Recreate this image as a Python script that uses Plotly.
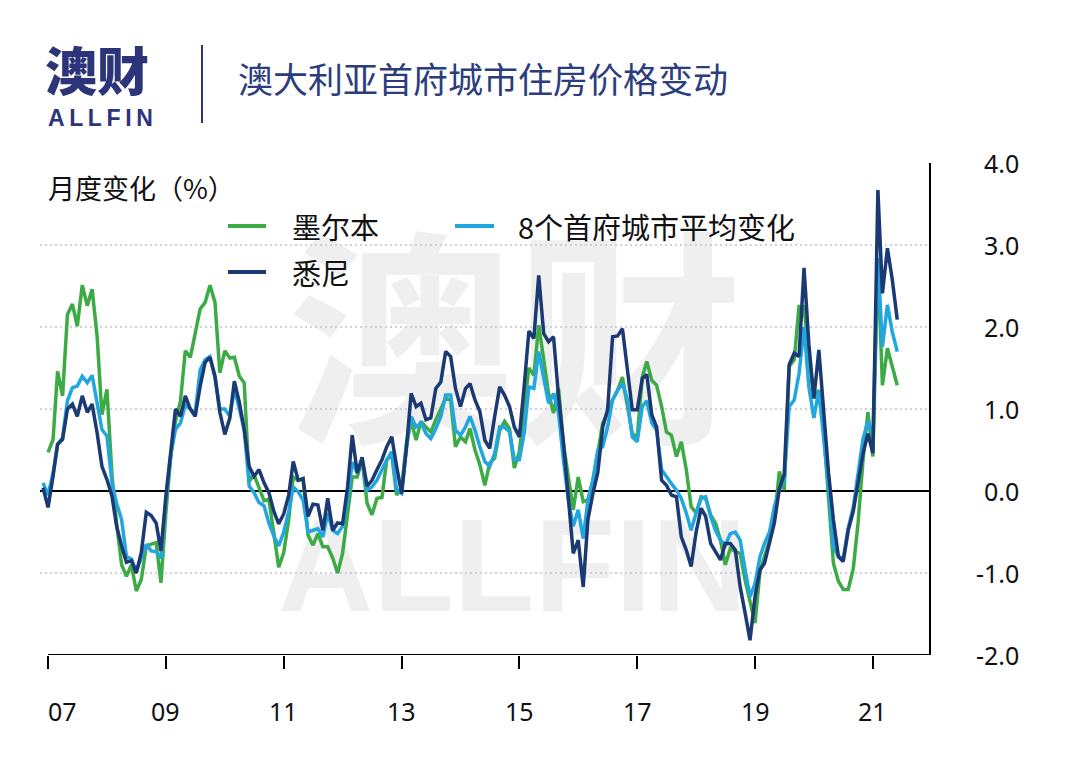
import pandas as pd
import plotly.graph_objects as go

# ---------------- data (monthly % change) ----------------
melbourne = [
    0.47, 0.63, 1.46, 1.16, 2.15, 2.28, 2.01, 2.51, 2.26, 2.46, 1.89, 0.93,
    1.24, 0.20, -0.40, -0.90, -1.04, -0.90, -1.22, -1.08, -0.67, -0.65, -0.63, -1.12,
    -0.25, 0.45, 0.85, 1.10, 1.71, 1.63, 1.90, 2.22, 2.30, 2.51, 2.30, 1.44,
    1.71, 1.62, 1.63, 1.40, 1.32, 0.12, 0.20, 0.05, -0.12, -0.10, -0.55, -0.93,
    -0.75, -0.35, 0.17, 0.13, 0.15, -0.54, -0.66, -0.52, -0.68, -0.68, -0.82, -1.00,
    -0.76, -0.27, 0.17, 0.17, 0.38, -0.15, -0.29, -0.09, -0.08, 0.38, 0.44, -0.05,
    0.05, 0.60, 0.85, 0.62, 0.85, 0.78, 0.72, 0.87, 1.01, 1.13, 1.11, 0.54,
    0.66, 0.60, 0.76, 0.50, 0.32, 0.07, 0.34, 0.40, 0.74, 0.85, 0.76, 0.28,
    0.48, 1.03, 1.50, 1.41, 2.02, 1.60, 1.19, 0.95, 1.25, 0.58, 0.13, -0.23,
    0.17, -0.13, -0.11, 0.13, 0.46, 0.83, 0.95, 1.11, 1.23, 1.39, 1.03, 0.70,
    0.66, 1.39, 1.58, 1.35, 1.29, 1.03, 0.72, 0.68, 0.42, 0.60, 0.26, -0.19,
    -0.27, -0.07, -0.09, -0.29, -0.39, -0.60, -0.90, -0.70, -0.74, -0.76, -1.09, -1.37,
    -1.61, -0.98, -0.80, -0.60, -0.35, 0.24, 0.01, 1.52, 1.60, 2.25, 2.25, 1.64,
    1.13, 1.23, 0.74, -0.07, -0.88, -1.10, -1.20, -1.20, -0.95, -0.39, 0.38, 0.96,
    0.42, 2.80, 1.29, 1.74, 1.50, 1.29,
]
sydney = [
    0.04,
    -0.20, 0.18, 0.57, 0.63, 1.00, 1.06, 0.91, 1.16, 0.96, 1.06, 0.71, 0.30,
    0.14, -0.06, -0.43, -0.67, -0.87, -0.85, -1.00, -0.75, -0.26, -0.30, -0.39, -0.73,
    -0.05, 0.50, 1.00, 0.91, 1.16, 1.00, 0.91, 1.28, 1.57, 1.63, 1.40, 0.96,
    0.69, 0.89, 1.34, 1.08, 0.75, 0.30, 0.18, 0.26, 0.10, -0.02, -0.25, -0.40,
    -0.28, -0.05, 0.36, 0.13, 0.15, -0.31, -0.16, -0.17, -0.48, -0.09, -0.48, -0.39,
    -0.40, 0.05, 0.68, 0.22, 0.41, 0.06, 0.13, 0.26, 0.38, 0.54, 0.66, 0.30,
    -0.03, 0.55, 1.19, 1.03, 1.07, 0.87, 0.89, 1.25, 1.33, 1.70, 1.64, 1.25,
    1.03, 1.25, 1.31, 1.11, 0.97, 0.62, 0.52, 0.91, 1.27, 1.17, 1.03, 0.78,
    0.66, 1.30, 1.95, 1.86, 2.63, 1.92, 1.82, 1.88, 1.15, 0.60, -0.05, -0.76,
    -0.60, -1.17, -0.35, -0.03, 0.22, 0.78, 0.99, 1.88, 1.89, 1.98, 1.48, 0.99,
    0.99, 1.37, 1.42, 0.93, 0.78, 0.13, 0.07, -0.05, -0.07, -0.56, -0.72, -0.92,
    -0.50, -0.21, -0.31, -0.64, -0.74, -0.84, -0.64, -0.64, -0.72, -1.17, -1.49, -1.82,
    -1.29, -0.96, -0.88, -0.64, -0.39, 0.03, 0.20, 1.54, 1.68, 1.64, 2.72, 1.79,
    1.13, 1.72, 0.99, 0.22, -0.35, -0.80, -0.86, -0.48, -0.25, 0.10, 0.46, 0.70,
    0.46, 3.67, 2.41, 2.96, 2.58, 2.09,
]
eight_capitals = [
    0.10,
    -0.05, 0.22, 0.57, 0.65, 1.10, 1.26, 1.28, 1.40, 1.32, 1.41, 1.08, 0.75,
    0.67, 0.10, -0.15, -0.35, -0.80, -0.83, -0.98, -0.80, -0.65, -0.73, -0.74, -0.82,
    -0.10, 0.45, 0.75, 0.83, 1.05, 1.00, 0.95, 1.48, 1.60, 1.64, 1.38, 1.00,
    1.00, 0.91, 1.24, 1.00, 0.75, 0.06, -0.02, -0.14, -0.18, -0.39, -0.55, -0.67,
    -0.50, -0.25, 0.05, -0.01, -0.11, -0.50, -0.48, -0.46, -0.56, -0.27, -0.48, -0.52,
    -0.43, -0.11, 0.35, 0.22, 0.36, 0.01, 0.05, 0.13, 0.26, 0.38, 0.48, 0.01,
    -0.03, 0.54, 0.91, 0.78, 0.83, 0.70, 0.64, 0.76, 0.91, 1.17, 1.17, 0.74,
    0.68, 0.78, 0.91, 0.74, 0.54, 0.36, 0.30, 0.46, 0.78, 0.78, 0.72, 0.38,
    0.38, 0.72, 1.27, 1.25, 1.70, 1.39, 1.07, 1.19, 0.95, 0.38, -0.11, -0.43,
    -0.23, -0.58, -0.11, 0.13, 0.50, 0.54, 0.78, 1.11, 1.23, 1.31, 1.11, 0.66,
    0.60, 1.03, 1.10, 0.83, 0.74, 0.26, 0.17, 0.09, 0.01, -0.09, -0.27, -0.48,
    -0.27, -0.09, -0.07, -0.31, -0.48, -0.60, -0.66, -0.52, -0.50, -0.60, -0.96, -1.29,
    -1.13, -0.80, -0.64, -0.50, -0.19, 0.01, 0.13, 1.03, 1.11, 1.43, 2.00, 1.27,
    0.89, 1.23, 0.66, 0.05, -0.68, -0.80, -0.82, -0.45, -0.20, 0.20, 0.64, 0.85,
    0.68, 2.84, 1.76, 2.27, 1.94, 1.70,
]
mel_start = "2007-01-01"
syd_start = "2006-12-01"
x_tick_dates = ["2007-01-01", "2009-01-01", "2011-01-01", "2013-01-01",
                "2015-01-01", "2017-01-01", "2019-01-01", "2021-01-01"]
x_tick_labels = ["07", "09", "11", "13", "15", "17", "19", "21"]
y_tick_vals = [4, 3, 2, 1, 0, -1, -2]
y_tick_labels = ["4.0", "3.0", "2.0", "1.0", "0.0", "-1.0", "-2.0"]
series_names = ["墨尔本", "8个首府城市平均变化", "悉尼"]

# ---------------- style ----------------
GREEN = "#3dab45"
LBLUE = "#22a6e0"
NAVY = "#1b3a73"
TITLE_C = "#2b3d7d"
LOGO_C = "#2d357a"
CJK = "Noto Sans CJK SC"

dates_mel = pd.date_range(mel_start, periods=len(melbourne), freq="MS")
dates_syd = pd.date_range(syd_start, periods=len(sydney), freq="MS")
dates_avg = pd.date_range(syd_start, periods=len(eight_capitals), freq="MS")

X_LEFT, X_RIGHT = "2006-11-12", "2021-12-21"
# page offset of the figure (body margin) is 8px; target plot area in page px:
OFF = 8
W, H = 1064, 750
P_L, P_R, P_T, P_B = 40, 930, 163, 655
ML, MR, MT, MB = P_L - OFF, (OFF + W) - P_R, P_T - OFF, (OFF + H) - P_B
PW, PH = P_R - P_L, P_B - P_T


def px(x):
    return (x - P_L) / PW


def py(y):
    return (P_B - y) / PH


fig = go.Figure()
fig.add_trace(go.Scatter(x=dates_mel, y=melbourne, mode="lines", name=series_names[0],
                         line=dict(color=GREEN, width=3.5)))
fig.add_trace(go.Scatter(x=dates_avg, y=eight_capitals, mode="lines", name=series_names[1],
                         line=dict(color=LBLUE, width=3.5)))
fig.add_trace(go.Scatter(x=dates_syd, y=sydney, mode="lines", name=series_names[2],
                         line=dict(color=NAVY, width=3.5)))

shapes = []
# watermark (below everything)
shapes.append(dict(type="rect", xref="paper", yref="paper",
                   x0=px(285), x1=px(745), y0=py(485), y1=py(240),
                   line=dict(width=0), fillcolor="rgba(0,0,0,0)", layer="below",
                   label=dict(text="澳财", textposition="middle center",
                              font=dict(size=228, color="#efefef", family=CJK, weight=700))))
shapes.append(dict(type="rect", xref="paper", yref="paper",
                   x0=px(280), x1=px(745), y0=py(625), y1=py(480),
                   line=dict(width=0), fillcolor="rgba(0,0,0,0)", layer="below",
                   label=dict(text="ALLFIN", textposition="middle center",
                              font=dict(size=132, color="#efefef",
                                        family="Liberation Sans", weight=700))))
# bottom axis line and right frame line
shapes.append(dict(type="line", xref="x", yref="y", x0="2007-01-01", x1=X_RIGHT,
                   y0=-2, y1=-2, line=dict(color="black", width=2)))
shapes.append(dict(type="line", xref="paper", yref="y", x0=1, x1=1,
                   y0=-2, y1=4, line=dict(color="black", width=2)))
# header separator
shapes.append(dict(type="line", xref="paper", yref="paper", x0=px(202), x1=px(202),
                   y0=py(45), y1=py(123), line=dict(color=LOGO_C, width=2)))
# legend swatches
for (x0, x1, yy, c) in [(228, 266, 226, GREEN), (455, 494, 226, LBLUE), (228, 266, 272, NAVY)]:
    shapes.append(dict(type="line", xref="paper", yref="paper", x0=px(x0), x1=px(x1),
                       y0=py(yy), y1=py(yy), line=dict(color=c, width=4)))

ann = []
# y labels on right, right-aligned
for v, t in zip(y_tick_vals, y_tick_labels):
    ann.append(dict(x=px(1021), y=v, xref="paper", yref="y", text=t, showarrow=False,
                    xanchor="right", yanchor="middle",
                    font=dict(size=25, color="#111111", family="Noto Sans")))
# x labels
for i, (d, t) in enumerate(zip(x_tick_dates, x_tick_labels)):
    ann.append(dict(x=d, y=py(711), xref="x", yref="paper", text=t, showarrow=False,
                    xanchor="left" if i == 0 else "center", yanchor="middle",
                    xshift=-2 if i == 0 else 0,
                    font=dict(size=25, color="#111111", family="Noto Sans")))
# axis title
ann.append(dict(x=px(46), y=py(187), xref="paper", yref="paper", text="月度变化（%）",
                showarrow=False, xanchor="left", yanchor="middle",
                font=dict(size=27, color="#111111", family=CJK)))
# legend labels
for (x0, yy, t) in [(290, 226, series_names[0]), (516, 226, series_names[1]),
                    (290, 272, series_names[2])]:
    ann.append(dict(x=px(x0), y=py(yy), xref="paper", yref="paper", text=t,
                    showarrow=False, xanchor="left", yanchor="middle",
                    font=dict(size=29, color="#111111", family=CJK)))
# header
ann.append(dict(x=px(236), y=py(77), xref="paper", yref="paper",
                text="澳大利亚首府城市住房价格变动", showarrow=False,
                xanchor="left", yanchor="middle",
                font=dict(size=35, color=TITLE_C, family=CJK)))
ann.append(dict(x=px(43), y=py(69), xref="paper", yref="paper", text="澳财",
                showarrow=False, xanchor="left", yanchor="middle",
                font=dict(size=52, color=LOGO_C, family=CJK, weight=900)))
ann.append(dict(x=px(46), y=py(118), xref="paper", yref="paper",
                text="A\u2009L\u2009L\u2009F\u2009I\u2009N", showarrow=False,
                xanchor="left", yanchor="middle",
                font=dict(size=23, color=LOGO_C, family="Liberation Sans", weight=700)))

fig.update_layout(
    width=W, height=H,
    margin=dict(l=ML, r=MR, t=MT, b=MB, pad=0),
    paper_bgcolor="white", plot_bgcolor="white",
    showlegend=False,
    shapes=shapes, annotations=ann,
    xaxis=dict(type="date", range=[X_LEFT, X_RIGHT], showgrid=False, zeroline=False,
               showline=False, tickvals=x_tick_dates, showticklabels=False,
               ticks="outside", ticklen=13, tickwidth=2, tickcolor="black"),
    yaxis=dict(range=[-2, 4], tickvals=[-1, 0, 1, 2, 3, 4], showticklabels=False,
               showgrid=True, gridcolor="#cfcfe0", gridwidth=2, griddash="2px,3px",
               zeroline=True, zerolinecolor="black", zerolinewidth=2,
               showline=False, ticks=""),
)

fig.write_html("out.html")
